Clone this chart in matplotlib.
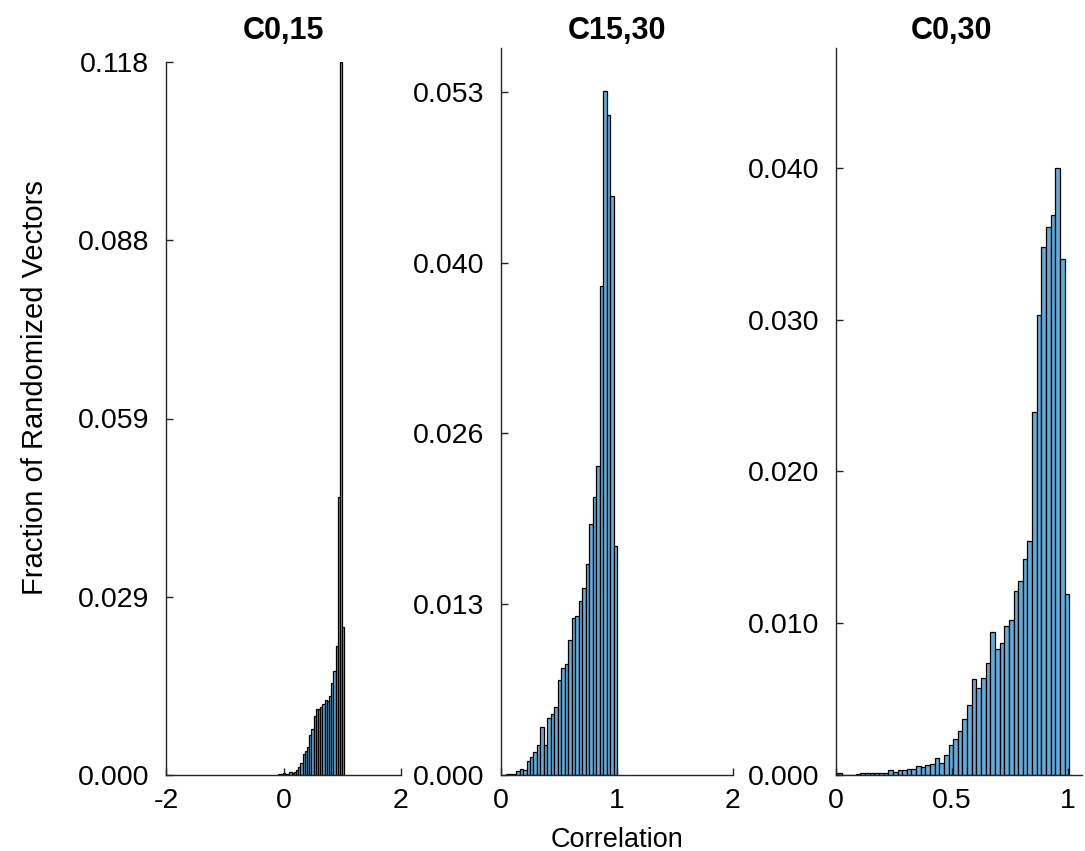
import numpy as np
import matplotlib
matplotlib.use("Agg")
import matplotlib.pyplot as plt

plt.rcParams['font.family'] = ['Liberation Sans', 'DejaVu Sans']

# ---------------- data ----------------
titles = ["C0,15", "C15,30", "C0,30"]

# Panel 1 (C0,15): bin width 0.0375, first edge -0.0875
p1_start = -0.0875
p1_width = 0.0375
p1_vals = [0.0001, 0.0002, 0.0003, 0.0001, 0.0002,
           0.0005, 0.0003, 0.0005, 0.0008, 0.0014,
           0.0020, 0.0035, 0.0039, 0.0046, 0.0067,
           0.0076, 0.0098, 0.0110, 0.0110, 0.0112,
           0.0117, 0.0124, 0.0122, 0.0130, 0.0153,
           0.0172, 0.0213, 0.0460, 0.1180, 0.0245]

# Panel 2 (C15,30): bin width 0.03, first edge 0.04
p2_start = 0.04
p2_width = 0.03
p2_vals = [0.00005, 0.0001, 0.0001, 0.0003, 0.0005,
           0.0004, 0.0011, 0.0014, 0.0018, 0.0023,
           0.0037, 0.0023, 0.0044, 0.0047, 0.0053,
           0.0074, 0.0083, 0.0086, 0.0105, 0.0122,
           0.0123, 0.0135, 0.0145, 0.0164, 0.0195,
           0.0216, 0.0240, 0.0379, 0.0531, 0.0512,
           0.0449, 0.0178]

# Panel 3 (C0,30): bin width 0.02, first edge 0.005
p3_start = 0.005
p3_width = 0.02
p3_vals = [0.0001, 0.0, 0.0, 0.0, 0.00005,
           0.0001, 0.0001, 0.0001, 0.0001, 0.0001,
           0.0001, 0.0003, 0.0002, 0.0003, 0.0003,
           0.0004, 0.0004, 0.0006, 0.0005, 0.00066,
           0.0007, 0.0011, 0.0008, 0.0013, 0.0020,
           0.0024, 0.0029, 0.0037, 0.0046, 0.0063,
           0.0057, 0.0064, 0.0074, 0.0094, 0.0083,
           0.0087, 0.0098, 0.0102, 0.0121, 0.0128,
           0.0142, 0.0154, 0.0239, 0.0303, 0.0348,
           0.0361, 0.0369, 0.0400, 0.0340, 0.0119]

xticks = [[-2, 0, 2], [0, 1, 2], [0, 0.5, 1]]
xticklabels = [["-2", "0", "2"], ["0", "1", "2"], ["0", "0.5", "1"]]
yticks = [[0, 0.0295, 0.059, 0.0885, 0.118],
          [0, 0.01325, 0.0265, 0.03975, 0.053],
          [0, 0.010, 0.020, 0.030, 0.040]]
yticklabels = [["0.000", "0.029", "0.059", "0.088", "0.118"],
               ["0.000", "0.013", "0.026", "0.040", "0.053"],
               ["0.000", "0.010", "0.020", "0.030", "0.040"]]
xlims = [(-2, 2), (0, 2), (0, 1.06)]
ylims = [(0, 0.118), (0, 0.0564), (0, 0.0479)]

x_label = "Correlation"
y_label = "Fraction of Randomized Vectors"

# ---------------- layout ----------------
W, H = 1085, 851
fig = plt.figure(figsize=(W / 100, H / 100), dpi=100)
boxes_px = [(166, 401, 62, 775), (501, 733, 48, 775), (836, 1082, 48, 775)]
title_x = [283, 617, 952]

face = (0.4, 0.668, 0.845)
axis_col = '#262626'

series = [(p1_start, p1_width, p1_vals),
          (p2_start, p2_width, p2_vals),
          (p3_start, p3_width, p3_vals)]

for i, (l, r, t, b) in enumerate(boxes_px):
    ax = fig.add_axes([l / W, (H - b) / H, (r - l) / W, (b - t) / H])
    start, width, vals = series[i]
    edges = start + width * np.arange(len(vals))
    ax.bar(edges, vals, width=width, align='edge', color=face,
           edgecolor='black', linewidth=0.9)
    ax.set_xlim(*xlims[i])
    ax.set_ylim(*ylims[i])
    ax.set_xticks(xticks[i])
    ax.set_xticklabels(xticklabels[i])
    ax.set_yticks(yticks[i])
    ax.set_yticklabels(yticklabels[i])
    for s in ['top', 'right']:
        ax.spines[s].set_visible(False)
    for s in ['left', 'bottom']:
        ax.spines[s].set_color(axis_col)
        ax.spines[s].set_linewidth(1.0)
    ax.tick_params(axis='both', direction='in', length=5, width=1,
                   colors=axis_col, labelsize=20.5, labelcolor='black')
    ax.tick_params(axis='y', pad=12)
    ax.tick_params(axis='x', pad=9)
    fig.text(title_x[i] / W, 1 - 31 / H, titles[i],
             ha='center', va='center', fontsize=22, fontweight='bold')

fig.text(617 / W, 1 - 840 / H, x_label, ha='center', va='center', fontsize=19.5)
fig.text(35 / W, 1 - 388 / H, y_label, ha='center', va='center',
         fontsize=21, rotation=90)

fig.savefig("out.png", dpi=100)
